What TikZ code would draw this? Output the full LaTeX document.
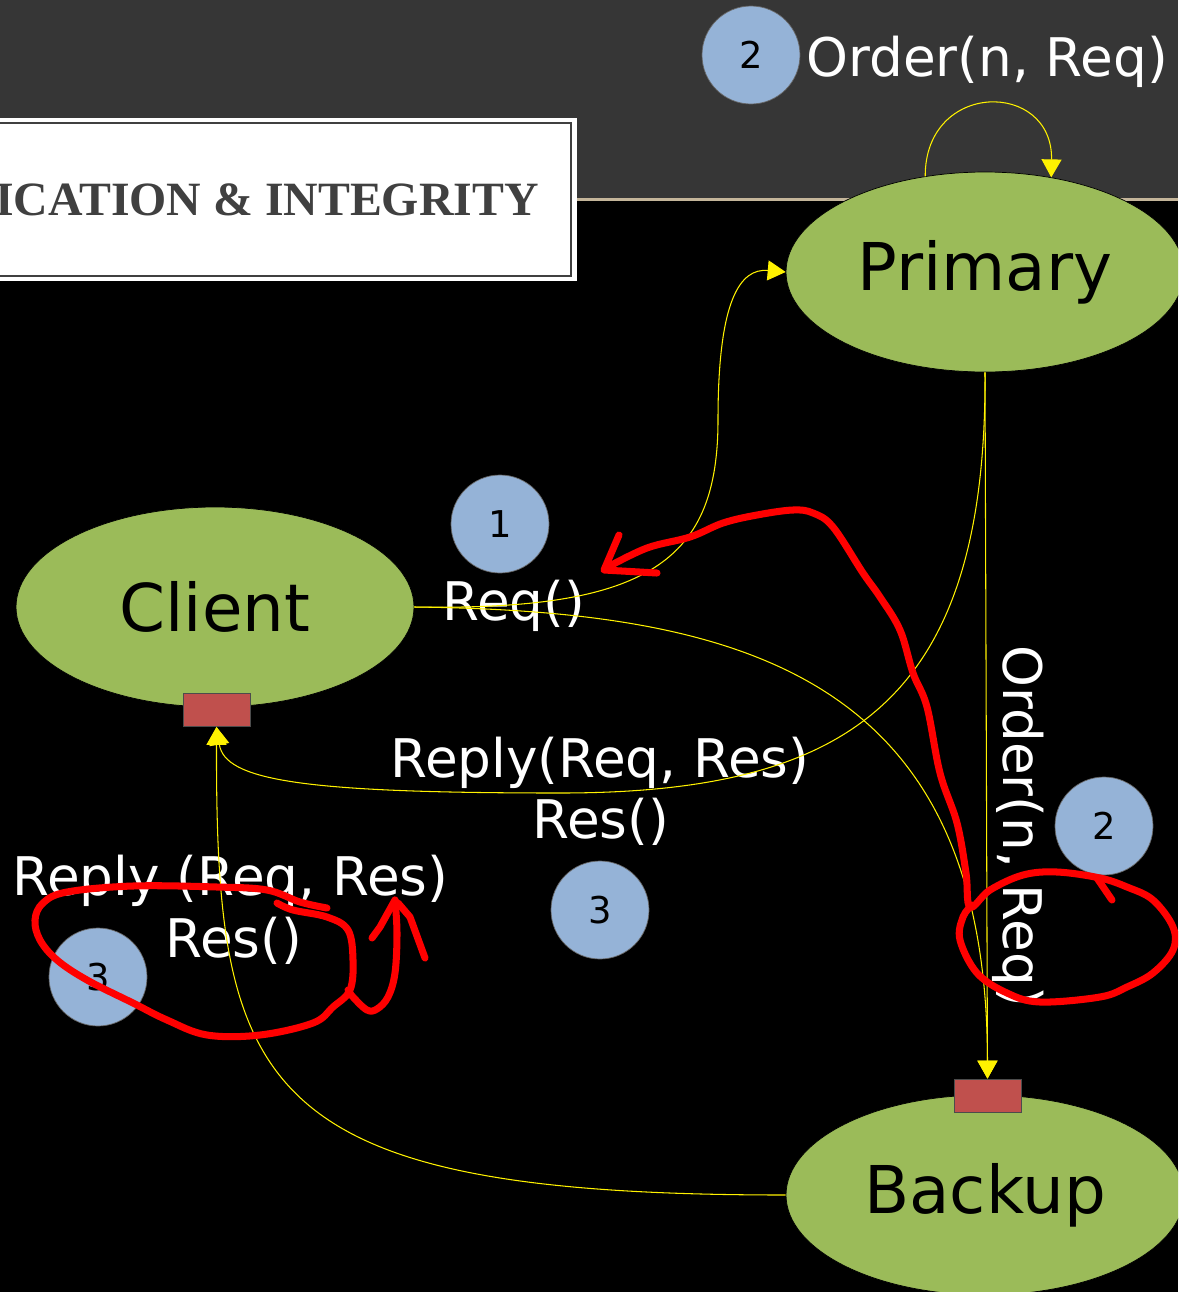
\documentclass[tikz,border=0pt]{standalone}
\usepackage{fontspec}
\setmainfont{DejaVu Sans}
\newfontfamily\titlefont{Liberation Serif}
\usetikzlibrary{arrows.meta,shapes.geometric}

\definecolor{slidegray}{HTML}{363636}
\definecolor{bandline}{HTML}{C4B59A}
\definecolor{hostgreen}{HTML}{9BBB59}
\definecolor{portred}{HTML}{C0504D}
\definecolor{stepblue}{HTML}{95B3D7}
\definecolor{titlegray}{HTML}{404040}
\definecolor{inkred}{HTML}{FF0000}

\begin{document}
\begin{tikzpicture}[
    x=0.02cm, y=-0.02cm,
    host/.style={ellipse, draw=black, thin, fill=hostgreen, minimum width=7.96cm, minimum height=4cm, inner sep=0pt, font=\fontsize{37.5}{41}\selectfont},
    port/.style={rectangle, draw=black!70, fill=portred, minimum width=1.34cm, minimum height=0.66cm, inner sep=0pt},
    stepnum/.style={circle, draw=black!60, thin, fill=stepblue, minimum size=1.96cm, inner sep=0pt, font=\fontsize{21}{24}\selectfont},
    msg/.style={text=white, inner sep=0pt, font=\fontsize{30.3}{34}\selectfont},
    flow/.style={draw=yellow, line width=0.6pt, -{Triangle[length=0.36cm, width=0.4cm]}},
    ink/.style={draw=inkred, line width=4pt, line cap=round, line join=round}
]
% Slide background
\clip (0,0) rectangle (1178,1292);
\fill[black] (0,0) rectangle (1178,1292);
\fill[slidegray] (0,0) rectangle (1178,198);
\fill[bandline] (0,198) rectangle (1178,201);

% Title box
\fill[white] (-20,118) rectangle (577,281);
\draw[titlegray, line width=1.5pt] (-20,123) rectangle (571,276);
\node[anchor=base east, inner sep=0pt, text=titlegray, font=\titlefont\fontsize{27.2}{30}\selectfont\bfseries] (title) at (539,215) {ICATION \& INTEGRITY};

% Hosts
\node[host] (primary) at (985,272) {Primary};
\node[host] (client) at (215,607) {Client};
\node[host] (backup) at (985,1195) {Backup};

% Ports
\node[port] (clientport) at (216.5,710) {};
\node[port] (backupport) at (987.5,1095.5) {};

% Steps
\node[stepnum] (one) at (500,524) {1};
\node[stepnum] (twotop) at (751,55) {2};
\node[stepnum] (two) at (1104,826) {2};
\node[stepnum] (three) at (600,910) {3};
\node[stepnum] (threeleft) at (98,977) {3};

% Messages
\node[msg, anchor=base west] (req) at (442,620) {Req()};
\node[msg, anchor=base west] (ordertop) at (806,76) {Order(n, Req)};
\node[msg, anchor=base west, rotate=-90] (order) at (1003,645) {Order(n, Req)};
\node[msg, anchor=base west] (reply) at (390,777) {Reply(Req, Res)};
\node[msg, anchor=base west] (res) at (532,838) {Res()};
\node[msg, anchor=base west] (replyleft) at (12,895) {Reply (Req, Res)};
\node[msg, anchor=base west] (resleft) at (165,957) {Res()};

% Connectors
\draw[flow] (client.east) .. controls (650,611) and (718,560) .. (718,420) .. controls (718,300) and (740,268) .. (primary.west);
\draw[flow] (client.east) .. controls (750,611) and (987,680) .. (backupport.north);
\draw[flow] (primary.south) -- (backupport.north);
\draw[flow] (primary.122) .. controls (925,80) and (1053,80) .. (primary.55);
\draw[flow] (primary.south) .. controls (987,700) and (850,793) .. (560,793) .. controls (300,793) and (225,780) .. (clientport.south);
\draw[flow] (backup.west) .. controls (255,1195) and (216,1090) .. (clientport.south);

% Hand-drawn marks
\draw[ink] plot[smooth, tension=0.6] coordinates {(606,568) (647,548) (690,537) (723,523) (757,515) (793,510) (813,513) (833,527) (863,573) (880,597) (900,630) (913,673) (927,707) (940,773) (957,823) (966,873) (970,907) (990,890) (1023,875) (1057,872) (1100,878) (1127,887) (1153,900) (1173,927) (1173,950) (1153,973) (1127,987) (1100,997) (1040,1002) (1007,993) (977,973) (960,940) (963,917) (972,905)};
\draw[ink] (1097,878) -- (1112,900);
\draw[ink] (619,535) -- (604,570) -- (657,573);
\draw[ink] plot[smooth, tension=0.6] coordinates {(327,908) (300,902) (267,890) (217,887) (133,886) (67,892) (43,903) (35,920) (40,940) (57,960) (87,980) (133,1003) (167,1020) (207,1035) (260,1035) (313,1023) (333,1007) (350,990) (353,960) (348,930) (327,917) (293,910) (277,903)};
\draw[ink] plot[smooth, tension=0.6] coordinates {(348,990) (353,997) (367,1010) (377,1009) (388,997) (395,973) (397,933) (395,900)};
\draw[ink] (372,938) -- (380,927) -- (395,900);
\draw[ink] (398,903) -- (410,917) -- (425,958);
\end{tikzpicture}
\end{document}
